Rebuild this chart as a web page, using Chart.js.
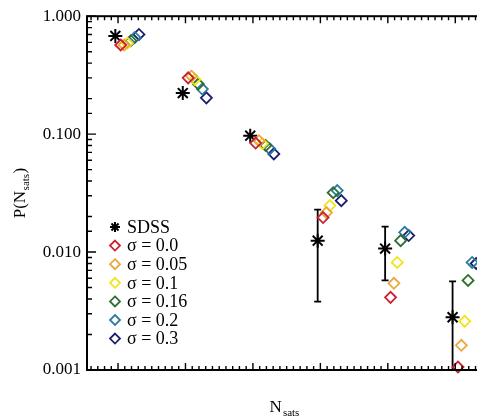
<!DOCTYPE html>
<html>
<head>
<meta charset="utf-8">
<style>
  html, body { margin: 0; padding: 0; background: #fff; overflow: hidden; }
  #wrap { width: 520px; height: 420px; position: relative; }
</style>
<script src="https://cdn.jsdelivr.net/npm/chart.js"></script>
</head>
<body>
<div id="wrap"><canvas id="chart"></canvas></div>
<script>
// values
var nSats = [1, 2, 3, 4, 5, 6];
var sdss = [0.68, 0.223, 0.097, 0.0125, 0.0107, 0.0028];
var sdssErrLow = [null, null, null, 0.0038, 0.00575, 0.0004];
var sdssErrHigh = [null, null, null, 0.0229, 0.01645, 0.00564];

var sigmaLabels = ["σ = 0.0", "σ = 0.05", "σ = 0.1", "σ = 0.16", "σ = 0.2", "σ = 0.3"];
var sigma00 = [0.57, 0.30, 0.084, 0.0196, 0.00413, 0.00106];
var sigma005 = [0.57, 0.31, 0.088, 0.0216, 0.00543, 0.00162];
var sigma01 = [0.59, 0.29, 0.083, 0.0248, 0.00817, 0.00259];
var sigma016 = [0.62, 0.266, 0.080, 0.0319, 0.0125, 0.00575];
var sigma02 = [0.66, 0.241, 0.075, 0.0332, 0.0147, 0.00817];
var sigma03 = [0.70, 0.203, 0.068, 0.0273, 0.0138, 0.0080];

var sigmaColors = ["#c8202e", "#eaa73c", "#f2e41c", "#2e6e2e", "#2c7d9c", "#1b1f6b"];
var sdssShift = -0.04;
var sigmaShift = [0.04, 0.09, 0.14, 0.19, 0.25, 0.31];
var serif = "'Liberation Serif', 'DejaVu Serif', serif";

function points(vals, shift) {
  return vals.map(function(v, i) {
    return { x: nSats[i] + shift, y: v };
  });
}

var sigmaData = [sigma00, sigma005, sigma01, sigma016, sigma02, sigma03];

var datasets = sigmaData.map(function(vals, k) {
  return {
    label: sigmaLabels[k],
    data: points(vals, sigmaShift[k]),
    pointStyle: "rectRot",
    pointRadius: 5.5,
    borderWidth: 1.8,
    borderColor: sigmaColors[k],
    backgroundColor: "rgba(0,0,0,0)",
    clip: false
  };
});
datasets.push({
  label: "SDSS",
  data: points(sdss, sdssShift),
  pointStyle: "star",
  pointRadius: 7,
  borderWidth: 2,
  borderColor: "#000",
  backgroundColor: "#000",
  clip: false
});

function drawStar(ctx, x, y, r) {
  ctx.beginPath();
  ctx.moveTo(x - r, y); ctx.lineTo(x + r, y);
  ctx.moveTo(x, y - r); ctx.lineTo(x, y + r);
  var d = r * 0.7071;
  ctx.moveTo(x - d, y - d); ctx.lineTo(x + d, y + d);
  ctx.moveTo(x - d, y + d); ctx.lineTo(x + d, y - d);
  ctx.stroke();
}

function drawDiamond(ctx, x, y, r) {
  ctx.beginPath();
  ctx.moveTo(x, y - r); ctx.lineTo(x + r, y);
  ctx.lineTo(x, y + r); ctx.lineTo(x - r, y);
  ctx.closePath();
  ctx.stroke();
}

// frame, inward ticks, error bars, legend and axis titles
var framePlugin = {
  id: "frame",
  beforeDatasetsDraw: function(chart) {
    var ctx = chart.ctx, xs = chart.scales.x, ys = chart.scales.y, a = chart.chartArea;
    ctx.save();
    ctx.strokeStyle = "#000";
    ctx.lineWidth = 1.8;
    for (var i = 0; i < nSats.length; i++) {
      if (sdssErrLow[i] === null) continue;
      var px = xs.getPixelForValue(nSats[i] + sdssShift);
      var top = ys.getPixelForValue(sdssErrHigh[i]);
      var bot = ys.getPixelForValue(sdssErrLow[i]);
      var clipped = bot > a.bottom;
      if (clipped) bot = a.bottom;
      ctx.beginPath();
      ctx.moveTo(px, top); ctx.lineTo(px, bot);
      ctx.moveTo(px - 3.5, top); ctx.lineTo(px + 3.5, top);
      if (!clipped) { ctx.moveTo(px - 3.5, bot); ctx.lineTo(px + 3.5, bot); }
      ctx.stroke();
    }
    ctx.restore();
  },
  afterDatasetsDraw: function(chart) {
    var ctx = chart.ctx, xs = chart.scales.x, ys = chart.scales.y, a = chart.chartArea;
    ctx.save();
    ctx.strokeStyle = "#000";
    ctx.lineWidth = 2;
    ctx.strokeRect(a.left, a.top, a.right - a.left, a.bottom - a.top);

    ctx.lineWidth = 1.4;
    ctx.beginPath();
    ys.ticks.forEach(function(t) {
      var lg = Math.log10(t.value);
      var major = Math.abs(lg - Math.round(lg)) < 1e-6;
      var py = ys.getPixelForValue(t.value);
      var len = major ? 9 : 5;
      ctx.moveTo(a.left, py); ctx.lineTo(a.left + len, py);
      ctx.moveTo(a.right, py); ctx.lineTo(a.right - len, py);
    });
    for (var k = Math.ceil(xs.min * 10); k <= Math.floor(xs.max * 10); k++) {
      var px = xs.getPixelForValue(k / 10);
      var len2 = (k % 10 === 0) ? 7 : 4;
      ctx.moveTo(px, a.bottom); ctx.lineTo(px, a.bottom - len2);
      ctx.moveTo(px, a.top); ctx.lineTo(px, a.top + len2);
    }
    ctx.stroke();

    // legend
    var lx = a.left + 28, ly = 227, step = 18.6;
    ctx.font = "18px " + serif;
    ctx.textBaseline = "middle";
    ctx.fillStyle = "#000";
    ctx.strokeStyle = "#000";
    ctx.lineWidth = 2;
    drawStar(ctx, lx, ly, 5);
    ctx.fillText("SDSS", lx + 12, ly + 1);
    for (var s = 0; s < sigmaLabels.length; s++) {
      var yy = ly + step * (s + 1);
      ctx.strokeStyle = sigmaColors[s];
      ctx.lineWidth = 1.8;
      drawDiamond(ctx, lx, yy, 5);
      ctx.fillStyle = "#000";
      ctx.fillText(sigmaLabels[s], lx + 12, yy + 1);
    }

    // axis titles with subscripts
    ctx.textBaseline = "alphabetic";
    ctx.fillStyle = "#000";
    ctx.font = "17px " + serif;
    var wN = ctx.measureText("N").width;
    ctx.font = "11px " + serif;
    var wS = ctx.measureText("sats").width;
    var x0 = 284 - (wN + wS) / 2;
    ctx.font = "17px " + serif;
    ctx.fillText("N", x0, 412);
    ctx.font = "11px " + serif;
    ctx.fillText("sats", x0 + wN + 1, 416);

    ctx.translate(20, 193);
    ctx.rotate(-Math.PI / 2);
    ctx.font = "17px " + serif;
    var w1 = ctx.measureText("P(N").width;
    var w3 = ctx.measureText(")").width;
    ctx.font = "11px " + serif;
    var w2 = ctx.measureText("sats").width;
    var sx = -(w1 + w2 + w3 + 1) / 2;
    ctx.font = "17px " + serif;
    ctx.fillText("P(N", sx, 5);
    ctx.font = "11px " + serif;
    ctx.fillText("sats", sx + w1 + 0.5, 9);
    ctx.font = "17px " + serif;
    ctx.fillText(")", sx + w1 + w2 + 1, 5);
    ctx.restore();
  }
};

var chart = new Chart("chart", {
  type: "scatter",
  data: { datasets: datasets },
  options: {
    responsive: true,
    maintainAspectRatio: false,
    animation: false,
    layout: { padding: { top: 15, right: 31, left: 0, bottom: 0 } },
    plugins: {
      legend: { display: false },
      tooltip: { enabled: false }
    },
    scales: {
      x: {
        type: "linear",
        min: 0.54,
        max: 6.5,
        grid: { display: false, drawTicks: false },
        border: { display: false },
        ticks: { display: false },
        afterFit: function(s) { s.height = 50; }
      },
      y: {
        type: "logarithmic",
        min: 0.001,
        max: 1,
        grid: { display: false, drawTicks: false },
        border: { display: false },
        ticks: {
          autoSkip: false,
          padding: 6,
          color: "#000",
          font: { family: serif, size: 17 },
          callback: function(v) {
            var lg = Math.log10(v);
            return Math.abs(lg - Math.round(lg)) < 1e-6 ? Number(v).toFixed(3) : "";
          }
        },
        afterFit: function(s) { s.width = 87; }
      }
    }
  },
  plugins: [framePlugin]
});
</script>
</body>
</html>
